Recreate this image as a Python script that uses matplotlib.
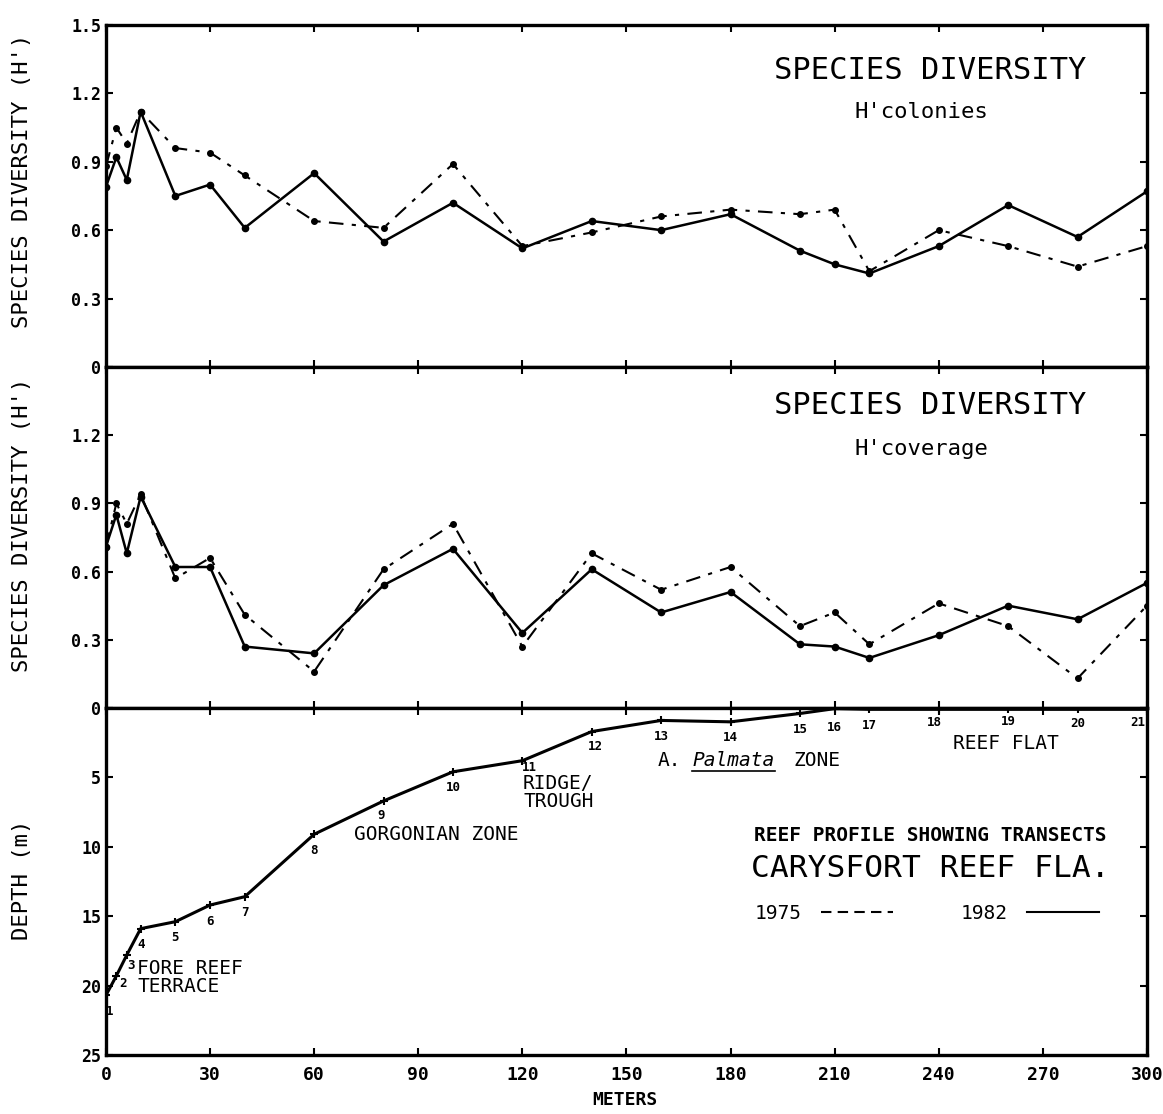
import numpy as np
import matplotlib.pyplot as plt
from matplotlib.lines import Line2D
from matplotlib.transforms import IdentityTransform

# transect positions along the reef (meters) and their numbers
transect_x = [0, 3, 6, 10, 20, 30, 40, 60, 80, 100, 120, 140, 160, 180, 200, 210, 220, 240, 260, 280, 300]
transect_no = [str(i) for i in range(1, 22)]

# species diversity H' (colonies)
colonies_1975 = [0.88, 1.05, 0.98, 1.12, 0.96, 0.94, 0.84, 0.64, 0.61, 0.89, 0.53, 0.59, 0.66, 0.69,
                 0.67, 0.69, 0.42, 0.60, 0.53, 0.44, 0.53]
colonies_1982 = [0.79, 0.92, 0.82, 1.12, 0.75, 0.80, 0.61, 0.85, 0.55, 0.72, 0.52, 0.64, 0.60, 0.67,
                 0.51, 0.45, 0.41, 0.53, 0.71, 0.57, 0.77]

# species diversity H' (coverage)
coverage_1975 = [0.71, 0.90, 0.81, 0.94, 0.57, 0.66, 0.41, 0.16, 0.61, 0.81, 0.27, 0.68, 0.52, 0.62,
                 0.36, 0.42, 0.28, 0.46, 0.36, 0.13, 0.45]
coverage_1982 = [0.71, 0.85, 0.68, 0.93, 0.62, 0.62, 0.27, 0.24, 0.54, 0.70, 0.33, 0.61, 0.42, 0.51,
                 0.28, 0.27, 0.22, 0.32, 0.45, 0.39, 0.55]

# reef profile depth (m)
depth = [20.7, 19.3, 17.8, 15.9, 15.4, 14.2, 13.6, 9.1, 6.7, 4.6, 3.8, 1.7, 0.9, 1.0,
         0.4, 0.05, 0.1, 0.1, 0.1, 0.1, 0.1]

xticks = list(range(0, 301, 30))

mono = 'DejaVu Sans Mono'
plt.rcParams['font.family'] = mono

fig = plt.figure(figsize=(11.63, 11.14), dpi=100)
ax1 = fig.add_axes([0.0911, 0.6706, 0.8951, 0.3070])
ax2 = fig.add_axes([0.0911, 0.3645, 0.8951, 0.3061])
ax3 = fig.add_axes([0.0911, 0.0530, 0.8951, 0.3115])

dash_style = (0, (7, 4, 2, 4))

for ax in (ax1, ax2, ax3):
    ax.set_xlim(0, 300)
    ax.set_xticks(xticks)
    for s in ax.spines.values():
        s.set_linewidth(2.4)
    ax.tick_params(direction='in', length=5, width=1.5, top=True, right=True,
                   labelsize=12)

# top panel
ax1.plot(transect_x, colonies_1975, color='black', lw=1.5, linestyle=dash_style,
         marker='o', ms=4, label='1975')
ax1.plot(transect_x, colonies_1982, color='black', lw=1.8, marker='o', ms=4.5, label='1982')
ax1.set_ylim(0, 1.5)
ax1.set_yticks([0, 0.3, 0.6, 0.9, 1.2, 1.5])
ax1.set_yticklabels(['0', '0.3', '0.6', '0.9', '1.2', '1.5'], fontweight='bold')
ax1.tick_params(labelbottom=False)
ax1.text(237.5, 1.30, 'SPECIES DIVERSITY', fontsize=22, ha='center', va='center')
ax1.text(235, 1.12, "H'colonies", fontsize=16, ha='center', va='center')

# middle panel
ax2.plot(transect_x, coverage_1975, color='black', lw=1.5, linestyle=dash_style,
         marker='o', ms=4)
ax2.plot(transect_x, coverage_1982, color='black', lw=1.8, marker='o', ms=4.5)
ax2.set_ylim(0, 1.5)
ax2.set_yticks([0, 0.3, 0.6, 0.9, 1.2, 1.5])
ax2.set_yticklabels(['', '0.3', '0.6', '0.9', '1.2', ''], fontweight='bold')
ax2.tick_params(labelbottom=False)
ax2.text(237.5, 1.33, 'SPECIES DIVERSITY', fontsize=22, ha='center', va='center')
ax2.text(235, 1.14, "H'coverage", fontsize=16, ha='center', va='center')

# bottom panel: reef profile
ax3.plot(transect_x, depth, color='black', lw=2.2, marker='+', ms=6, mew=1.5)
ax3.set_ylim(25, 0)
ax3.set_yticks([0, 5, 10, 15, 20, 25])
ax3.set_yticklabels(['0', '5', '10', '15', '20', '25'], fontweight='bold')
ax3.set_xticklabels([str(t) for t in xticks], fontweight='bold', fontsize=13)
ax3.tick_params(axis='x', pad=8)

# transect numbers
label_offsets = {0: (4, -16), 1: (7, -8), 2: (4, -10), 8: (-2, -15), 10: (7, -7),
                 11: (4, -15), 15: (0, -19), 17: (-4, -13), 18: (0, -12), 19: (0, -14),
                 20: (-9, -13)}
for i, (xv, dv) in enumerate(zip(transect_x, depth)):
    off = label_offsets.get(i, (0, -16))
    ax3.annotate(transect_no[i], (xv, dv), xytext=off, textcoords='offset pixels',
                 fontsize=9, fontweight='bold', ha='center', va='center')

zone_kw = dict(fontsize=14, ha='left', va='center')
ax3.text(9, 19.4, 'FORE REEF\nTERRACE', linespacing=0.95, **zone_kw)
ax3.text(71.5, 9.1, 'GORGONIAN ZONE', **zone_kw)
ax3.text(120.2, 6.1, 'RIDGE/\nTROUGH', linespacing=0.95, **zone_kw)
ax3.text(159, 3.8, 'A.', **zone_kw)
palm = ax3.text(169, 3.8, 'Palmata', fontstyle='italic', **zone_kw)
ax3.text(198, 3.8, 'ZONE', **zone_kw)
ax3.text(244, 2.55, 'REEF FLAT', **zone_kw)

ax3.text(237.5, 9.2, 'REEF PROFILE SHOWING TRANSECTS', fontsize=14, fontweight='bold',
         ha='center', va='center')
ax3.text(237.5, 11.6, 'CARYSFORT REEF FLA.', fontsize=22.5, ha='center', va='center')

handles = [Line2D([], [], color='black', lw=1.5, linestyle=(0, (5, 3))),
           Line2D([], [], color='black', lw=1.5)]
ax3.legend(handles, ['1975', '1982'], ncol=2, markerfirst=False, frameon=False,
           loc='center left', bbox_to_anchor=(0.623, 0.409), fontsize=14,
           handlelength=3.7, handletextpad=1.0, columnspacing=3.5,
           borderpad=0, borderaxespad=0)

# axis labels
fig.text(0.019, 0.838, "SPECIES DIVERSITY (H')", rotation=90, fontsize=16,
         ha='center', va='center')
fig.text(0.019, 0.529, "SPECIES DIVERSITY (H')", rotation=90, fontsize=16,
         ha='center', va='center')
fig.text(0.019, 0.21, 'DEPTH (m)', rotation=90, fontsize=16, ha='center', va='center')
fig.text(0.537, 0.0126, 'METERS', fontsize=13, fontweight='bold', ha='center', va='center')

# underline the species name
fig.canvas.draw()
bb = palm.get_window_extent()
fig.add_artist(Line2D([bb.x0, bb.x1], [bb.y0 - 1, bb.y0 - 1], color='black', lw=1.2,
                      transform=IdentityTransform()))

fig.savefig('out.png', dpi=100)
